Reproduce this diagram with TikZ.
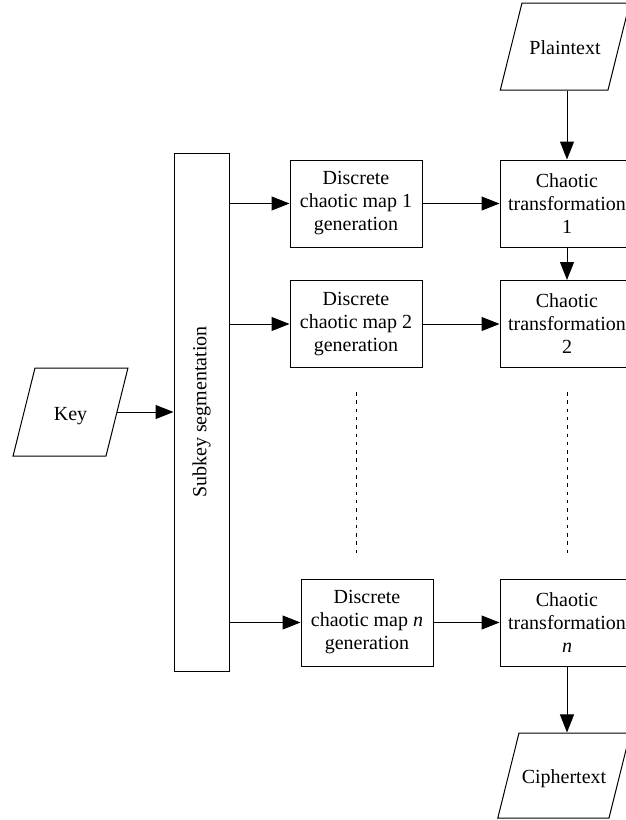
\documentclass[tikz,border=0pt]{standalone}
\usepackage{fontspec}
\setmainfont{Liberation Serif}
\usetikzlibrary{arrows.meta,shapes.geometric}

\tikzset{
    every node/.style={font=\fontsize{20}{23}\selectfont},
    procbox/.style={draw, line width=1pt, minimum width=132pt, minimum height=87pt,
        align=center, inner sep=0pt},
    iobox/.style={draw, line width=1pt, trapezium, trapezium left angle=76,
        trapezium right angle=104, align=center, inner xsep=0pt,
        text height=17pt, text depth=1pt},
    flow/.style={-{Triangle[length=18pt,width=14pt]}, line width=1pt},
    gapline/.style={line width=1pt, dash pattern=on 3.5pt off 4.8pt}
}

\begin{document}
\begin{tikzpicture}[x=1pt, y=-1pt]
    \useasboundingbox (0,0) rectangle (626,820);

    % inputs and output
    \node[iobox, text width=71pt, inner ysep=35pt] (key) at (70.5,412) {Key};
    \node[iobox, text width=86pt, inner ysep=34.5pt] (plain) at (565,46.5) {Plaintext};
    \node[iobox, text width=90pt, inner ysep=33.5pt] (cipher) at (564,775.5) {Ciphertext};

    % subkey block
    \node[draw, line width=1pt, rotate=90, minimum width=518pt, minimum height=55pt,
        inner sep=0pt] (sub) at (201.5,412) {Subkey segmentation};

    % map generation
    \node[procbox] (map1) at (356,203.5) {Discrete\\chaotic map 1\\generation};
    \node[procbox] (map2) at (356,324) {Discrete\\chaotic map 2\\generation};
    \node[procbox] (mapn) at (367,622.5) {Discrete\\chaotic map \textit{n}\\generation};

    % transformations
    \node[procbox, minimum width=134pt] (tr1) at (567,203.5) {Chaotic\\transformation\\1};
    \node[procbox, minimum width=134pt] (tr2) at (567,324) {Chaotic\\transformation\\2};
    \node[procbox, minimum width=134pt] (trn) at (567,622.5) {Chaotic\\transformation\\\textit{n}};

    \draw[flow] (key.east) -- (key.east -| sub.north);
    \draw[flow] (sub.south |- map1.west) -- (map1.west);
    \draw[flow] (sub.south |- map2.west) -- (map2.west);
    \draw[flow] (sub.south |- mapn.west) -- (mapn.west);

    \draw[flow] (map1) -- (tr1);
    \draw[flow] (map2) -- (tr2);
    \draw[flow] (mapn) -- (trn);

    \draw[flow] (plain.south -| tr1.north) -- (tr1.north);
    \draw[flow] (tr1) -- (tr2);
    \draw[flow] (trn) -- (cipher.north -| trn.south);

    % omitted stages
    \coordinate (gapA) at (356,392);
    \coordinate (gapB) at (356,553);
    \coordinate (gapC) at (567,392);
    \coordinate (gapD) at (567,553);
    \draw[gapline] (gapA) -- (gapB);
    \draw[gapline] (gapC) -- (gapD);
\end{tikzpicture}
\end{document}
